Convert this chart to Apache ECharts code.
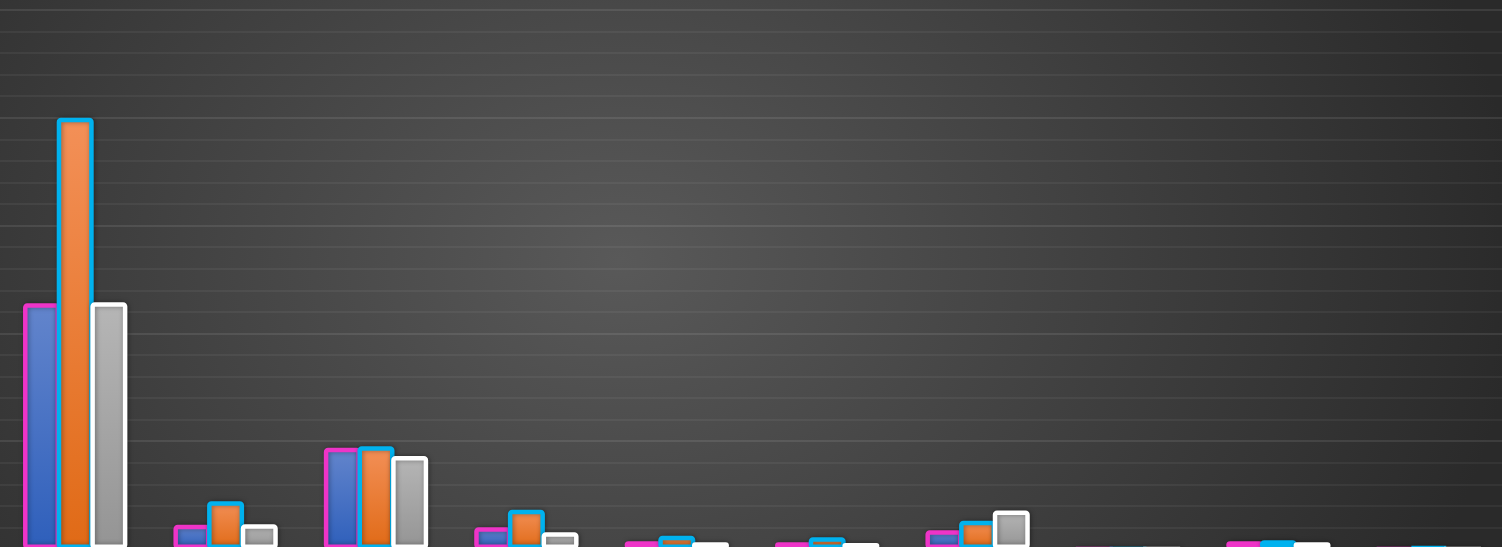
<!DOCTYPE html>
<html>
<head>
<meta charset="utf-8">
<script src="https://cdn.jsdelivr.net/npm/echarts@6/dist/echarts.min.js"></script>
<style>
  html, body { margin: 0; padding: 0; overflow: hidden; width: 1502px; height: 547px; }
  body {
    background: radial-gradient(ellipse 900px 700px at 620px 260px, #595959 0%, #2a2a2a 100%);
  }
  #chart { width: 1504px; height: 556px; }
</style>
</head>
<body>
<div id="chart"></div>
<script>
const categories = ['Category 1','Category 2','Category 3','Category 4','Category 5','Category 6','Category 7','Category 8','Category 9','Category 10'];
const seriesNames = ['Series 1','Series 2','Series 3'];
const series1 = [228, 22.6, 93.9, 20.2, 7.2, 6.2, 17.4, 0, 7.2, 0];
const series2 = [400, 44.3, 95.4, 36.5, 12.4, 10.9, 26.3, 0, 8.1, 2];
const series3 = [229, 23, 86.2, 15.5, 6.2, 5.6, 35.6, 0, 6.2, 0];
const yTicks = { min: 0, max: 500, interval: 100 };

const chart = echarts.init(document.getElementById('chart'), null, { renderer: 'canvas' });

function grad(top, bottom) {
  return new echarts.graphic.LinearGradient(0, 0, 0, 1, [
    { offset: 0, color: top },
    { offset: 1, color: bottom }
  ]);
}

const styles = [
  { fill: grad('#6385cc', '#2e5fbb'), border: '#ee34c8' },
  { fill: grad('#f39058', '#e06a16'), border: '#00b2ef' },
  { fill: grad('#b6b6b6', '#949494'), border: '#ffffff' }
];
const data = [series1, series2, series3];

chart.setOption({
  backgroundColor: 'transparent',
  animation: false,
  grid: { left: 0, right: 0, top: 10, bottom: 7, containLabel: false },
  xAxis: {
    type: 'category',
    data: categories,
    axisLine: { show: false },
    axisTick: { show: false },
    axisLabel: { show: false },
    splitLine: { show: false }
  },
  yAxis: {
    type: 'value',
    min: yTicks.min,
    max: yTicks.max,
    interval: yTicks.interval,
    axisLine: { show: false },
    axisTick: { show: false },
    axisLabel: { show: false },
    splitLine: { show: true, lineStyle: { color: 'rgba(255,255,255,0.09)', width: 2 } },
    minorTick: { show: false, splitNumber: 5 },
    minorSplitLine: { show: true, lineStyle: { color: 'rgba(255,255,255,0.05)', width: 2 } }
  },
  series: data.map((d, i) => ({
    name: seriesNames[i],
    type: 'bar',
    data: d,
    barWidth: 37,
    barGap: '-9%',
    itemStyle: {
      color: styles[i].fill,
      borderColor: styles[i].border,
      borderWidth: 4.5,
      borderRadius: 2,
      shadowColor: 'rgba(0,0,0,0.35)',
      shadowBlur: 5,
      shadowOffsetX: 1,
      shadowOffsetY: 0
    }
  }))
});
</script>
</body>
</html>
